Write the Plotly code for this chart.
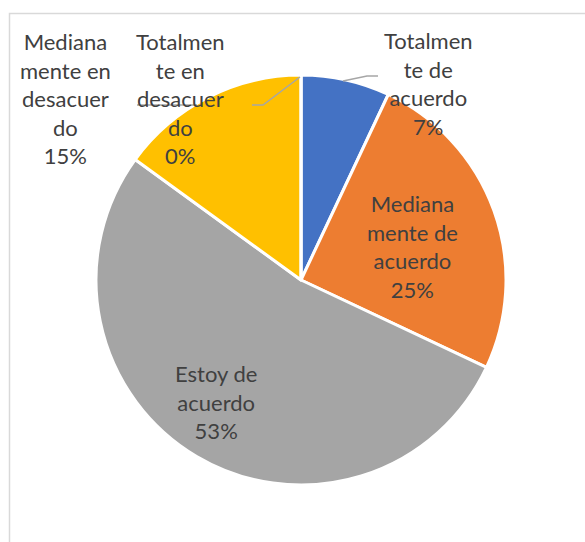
import plotly.graph_objects as go

categories = ["Totalmente de acuerdo", "Medianamente de acuerdo", "Estoy de acuerdo",
              "Medianamente en desacuerdo", "Totalmente en desacuerdo"]
wrapped_labels = ["Totalmen<br>te de<br>acuerdo", "Mediana<br>mente de<br>acuerdo",
                  "Estoy de<br>acuerdo", "Mediana<br>mente en<br>desacuer<br>do",
                  "Totalmen<br>te en<br>desacuer<br>do"]
percent_values = [7, 25, 53, 15, 0]
colors = ["#4472C4", "#ED7D31", "#A5A5A5", "#FFC000", "#5B9BD5"]

W, H = 585, 542
def px(x):
    return x / W
def py(y):
    return 1 - y / H

cx, cy, r = 301, 280, 205

fig = go.Figure(go.Pie(
    labels=categories,
    values=percent_values,
    sort=False,
    direction="clockwise",
    rotation=0,
    marker=dict(colors=colors, line=dict(color="white", width=3)),
    textinfo="none",
    showlegend=False,
    domain=dict(x=[px(cx - r), px(cx + r)], y=[py(cy + r), py(cy - r)]),
))

# label centres (pixel positions in the picture)
label_pos = [(428, 83), (412, 246), (216, 402), (65, 98), (180, 98)]
for lab, val, (lx, ly) in zip(wrapped_labels, percent_values, label_pos):
    fig.add_annotation(
        x=px(lx), y=py(ly), xref="paper", yref="paper",
        text=f"{lab}<br>{val}%", showarrow=False,
        xanchor="center", yanchor="middle", align="center",
        font=dict(family="Lato", size=22, color="#404040"),
    )

lead = "#A6A6A6"
def path(points):
    s = "M " + " L ".join(f"{px(a)},{py(b)}" for a, b in points)
    return s

fig.add_shape(type="path", xref="paper", yref="paper",
              path=path([(343, 81), (367, 76), (378, 76)]),
              line=dict(color=lead, width=1.5))
fig.add_shape(type="path", xref="paper", yref="paper",
              path=path([(300, 77), (263, 105), (252, 105)]),
              line=dict(color=lead, width=1.5))
fig.add_shape(type="line", xref="paper", yref="paper",
              x0=px(137), y0=py(105), x1=px(197), y1=py(105),
              line=dict(color=lead, width=1.5))

# outer chart frame
fig.add_shape(type="rect", xref="paper", yref="paper",
              x0=px(9.5), y0=py(600), x1=px(700), y1=py(13.5),
              line=dict(color="#D9D9D9", width=1.5))

fig.update_layout(
    width=W, height=H,
    margin=dict(l=0, r=0, t=0, b=0),
    paper_bgcolor="white", plot_bgcolor="white",
)

fig.write_html("out.html", config={"displayModeBar": False},
               post_script="document.body.style.margin='0';document.body.style.padding='0';")
